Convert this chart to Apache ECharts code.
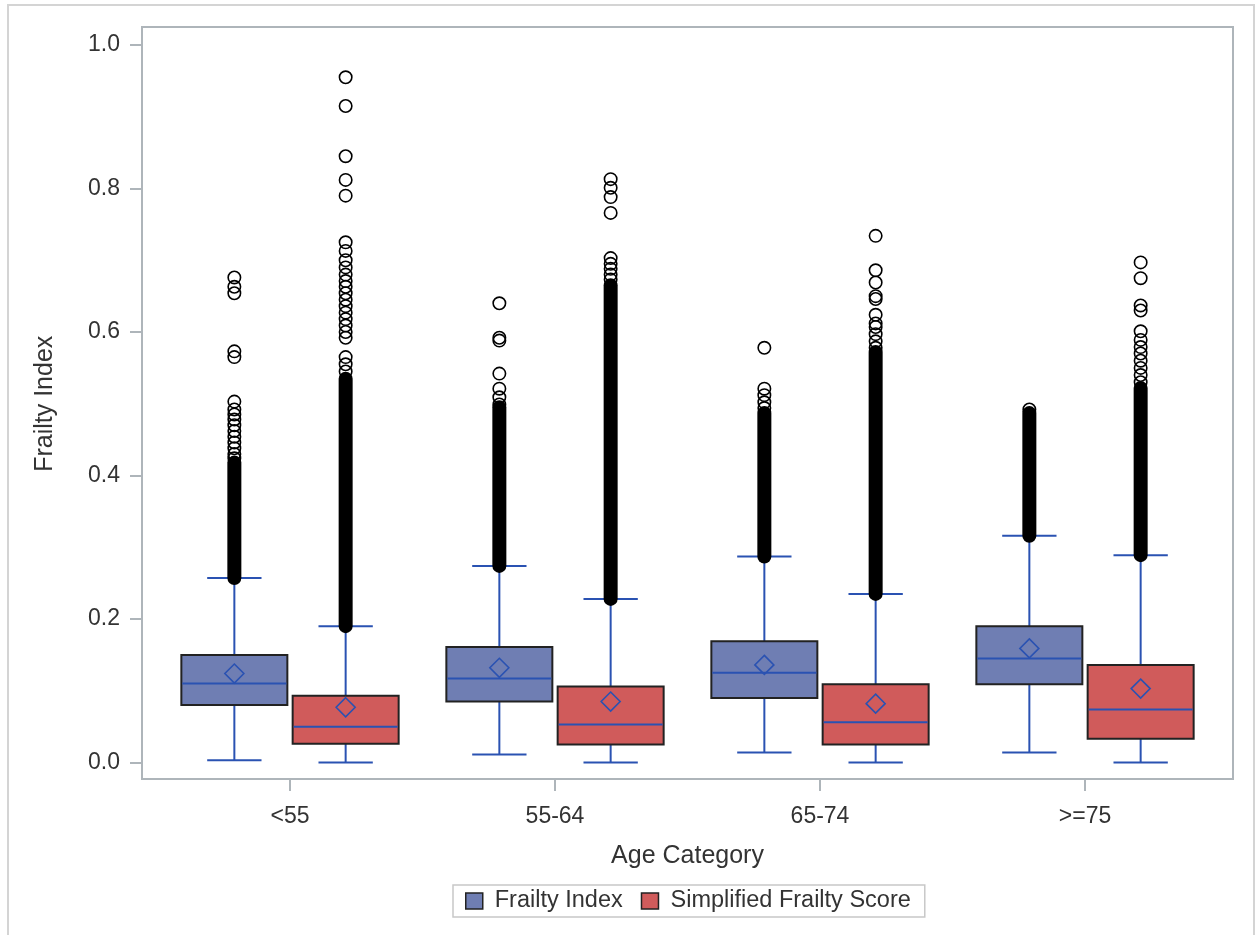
<!DOCTYPE html>
<html>
<head>
<meta charset="utf-8">
<script src="https://cdn.jsdelivr.net/npm/echarts@6/dist/echarts.min.js"></script>
<style>
html,body{margin:0;padding:0;background:#fff;}
#chart{width:1259px;height:935px;}
</style>
</head>
<body>
<div id="chart"></div>
<script>
// ---------- data ----------
const categories = ['<55', '55-64', '65-74', '>=75'];
const seriesNames = ['Frailty Index', 'Simplified Frailty Score'];

// Frailty Index boxes
const fiMin    = [0.003, 0.011, 0.014, 0.014];
const fiQ1     = [0.080, 0.085, 0.090, 0.109];
const fiMedian = [0.110, 0.117, 0.125, 0.145];
const fiQ3     = [0.150, 0.161, 0.169, 0.190];
const fiMax    = [0.257, 0.274, 0.287, 0.316];
const fiMean   = [0.124, 0.132, 0.136, 0.159];

// Simplified Frailty Score boxes
const sfsMin    = [0.000, 0.000, 0.000, 0.000];
const sfsQ1     = [0.026, 0.025, 0.025, 0.033];
const sfsMedian = [0.050, 0.053, 0.056, 0.074];
const sfsQ3     = [0.093, 0.106, 0.109, 0.136];
const sfsMax    = [0.190, 0.228, 0.235, 0.289];
const sfsMean   = [0.077, 0.085, 0.082, 0.103];

// Dense runs of overlapping outliers (low, high) per category
const fiDenseLow   = [0.257, 0.274, 0.287, 0.316];
const fiDenseHigh  = [0.418, 0.495, 0.487, 0.487];
const sfsDenseLow  = [0.190, 0.228, 0.235, 0.289];
const sfsDenseHigh = [0.535, 0.665, 0.572, 0.522];

// Individually visible outliers per category
const fiOutliers = [
  [0.676, 0.663, 0.654, 0.573, 0.565, 0.503, 0.492, 0.485, 0.478, 0.470, 0.462, 0.454, 0.446, 0.438, 0.430, 0.424],
  [0.640, 0.592, 0.588, 0.542, 0.521, 0.509, 0.499],
  [0.578, 0.521, 0.512, 0.502, 0.494],
  [0.492]
];
const sfsOutliers = [
  [0.955, 0.915, 0.845, 0.812, 0.790, 0.725, 0.713, 0.700, 0.690, 0.680, 0.671, 0.663, 0.654, 0.645, 0.636, 0.627, 0.618, 0.609, 0.600, 0.592, 0.565, 0.555, 0.545],
  [0.813, 0.801, 0.788, 0.766, 0.703, 0.695, 0.688, 0.680, 0.673],
  [0.734, 0.686, 0.669, 0.650, 0.646, 0.624, 0.612, 0.607, 0.597, 0.587, 0.578],
  [0.697, 0.675, 0.637, 0.630, 0.601, 0.589, 0.579, 0.570, 0.560, 0.550, 0.540, 0.530]
];

const yTicks = [0, 0.2, 0.4, 0.6, 0.8, 1.0];

// ---------- styling ----------
const FILLS = ['#6F7EB3', '#D05B5B'];
const LINE = '#2A52B2';
const BOX_EDGE = '#222222';
const AXIS_GRAY = '#AEB5BA';
const TEXT = '#333333';
const FONT = "'Liberation Sans', Arial, sans-serif";
const OFFSETS = [-0.21, 0.21];   // fraction of category band
const BOX_W = 0.40;
const CAP_W = 0.205;
const R = 6.2;

// ---------- build series data ----------
function boxData(mn, q1, md, q3, mx, mean) {
  return categories.map((c, i) => [i, mn[i], q1[i], md[i], q3[i], mx[i], mean[i]]);
}
const boxSets = [
  boxData(fiMin, fiQ1, fiMedian, fiQ3, fiMax, fiMean),
  boxData(sfsMin, sfsQ1, sfsMedian, sfsQ3, sfsMax, sfsMean)
];
const denseData = [];
categories.forEach((c, i) => {
  denseData.push([i, fiDenseLow[i], fiDenseHigh[i], 0]);
  denseData.push([i, sfsDenseLow[i], sfsDenseHigh[i], 1]);
});
const outlierData = [];
categories.forEach((c, i) => {
  fiOutliers[i].forEach(v => outlierData.push([i, v, 0]));
  sfsOutliers[i].forEach(v => outlierData.push([i, v, 1]));
});

function centerX(api, cat, g) {
  const band = api.size([1, 0])[0];
  return { c: api.coord([cat, 0])[0] + OFFSETS[g] * band, band: band };
}

function boxRender(g) {
  return function (params, api) {
    const cat = api.value(0);
    const p = centerX(api, cat, g);
    const c = p.c, band = p.band;
    const y = k => api.coord([cat, api.value(k)])[1];
    const yMin = y(1), yQ1 = y(2), yMed = y(3), yQ3 = y(4), yMax = y(5), yMean = y(6);
    const bw = BOX_W * band, cw = CAP_W * band, d = 9.5;
    const ls = { stroke: LINE, lineWidth: 2 };
    return {
      type: 'group',
      children: [
        { type: 'line', shape: { x1: c, y1: yMin, x2: c, y2: yQ1 }, style: ls },
        { type: 'line', shape: { x1: c, y1: yQ3, x2: c, y2: yMax }, style: ls },
        { type: 'line', shape: { x1: c - cw / 2, y1: yMin, x2: c + cw / 2, y2: yMin }, style: ls },
        { type: 'line', shape: { x1: c - cw / 2, y1: yMax, x2: c + cw / 2, y2: yMax }, style: ls },
        { type: 'rect', shape: { x: c - bw / 2, y: yQ3, width: bw, height: yQ1 - yQ3 },
          style: { fill: FILLS[g], stroke: BOX_EDGE, lineWidth: 2 } },
        { type: 'line', shape: { x1: c - bw / 2 + 1, y1: yMed, x2: c + bw / 2 - 1, y2: yMed }, style: ls },
        { type: 'polygon', shape: { points: [[c, yMean - d], [c + d, yMean], [c, yMean + d], [c - d, yMean]] },
          style: { fill: 'none', stroke: LINE, lineWidth: 1.6 } }
      ]
    };
  };
}

function denseRender(params, api) {
  const cat = api.value(0);
  const g = api.value(3);
  const c = centerX(api, cat, g).c;
  const yLo = api.coord([cat, api.value(1)])[1];
  const yHi = api.coord([cat, api.value(2)])[1];
  const w = 2 * R + 1.6;
  return {
    type: 'rect',
    shape: { x: c - w / 2, y: yHi - w / 2, width: w, height: (yLo - yHi) + w, r: w / 2 },
    style: { fill: '#000' }
  };
}

function outlierRender(params, api) {
  const cat = api.value(0);
  const g = api.value(2);
  const c = centerX(api, cat, g).c;
  const yv = api.coord([cat, api.value(1)])[1];
  return {
    type: 'circle',
    shape: { cx: c, cy: yv, r: R },
    style: { fill: 'none', stroke: '#000', lineWidth: 1.6 }
  };
}

const chart = echarts.init(document.getElementById('chart'), null, { renderer: 'canvas' });

const option = {
  backgroundColor: '#ffffff',
  animation: false,
  textStyle: { fontFamily: FONT },
  graphic: [{
    type: 'rect', silent: true,
    shape: { x: 8, y: 5, width: 1246, height: 945 },
    style: { fill: 'none', stroke: '#D4D4D4', lineWidth: 2 }
  }],
  grid: [
    { left: 142, top: 27, right: 26, bottom: 156, show: true, borderColor: AXIS_GRAY, borderWidth: 2, backgroundColor: '#fff' },
    { left: 157.5, right: 41.5, top: 45, bottom: 172.5 }
  ],
  xAxis: [
    { gridIndex: 0, type: 'value', show: false, min: 0, max: 1 },
    {
      gridIndex: 1, type: 'category', data: categories, boundaryGap: true, offset: 16.5,
      axisLine: { show: false, onZero: false },
      axisTick: { show: true, alignWithLabel: true, length: 12, lineStyle: { color: AXIS_GRAY, width: 2 } },
      axisLabel: { margin: 26, fontSize: 23, color: TEXT, fontFamily: FONT },
      name: 'Age Category', nameLocation: 'middle', nameGap: 65,
      nameTextStyle: { fontSize: 25, color: TEXT, fontFamily: FONT }
    }
  ],
  yAxis: [
    { gridIndex: 0, type: 'value', show: false, min: 0, max: 1 },
    {
      gridIndex: 1, type: 'value', min: yTicks[0], max: yTicks[yTicks.length - 1], interval: 0.2, offset: 15.5,
      axisLine: { show: false, onZero: false },
      splitLine: { show: false },
      axisTick: { show: true, length: 12, lineStyle: { color: AXIS_GRAY, width: 2 } },
      axisLabel: { margin: 22, fontSize: 23, color: TEXT, fontFamily: FONT, formatter: v => v.toFixed(1) },
      name: 'Frailty Index', nameLocation: 'middle', nameGap: 84,
      nameTextStyle: { fontSize: 25, color: TEXT, fontFamily: FONT }
    }
  ],
  legend: {
    left: 453, top: 885,
    data: seriesNames.map((n, i) => ({ name: n, itemStyle: { color: FILLS[i], borderColor: '#222', borderWidth: 1.5 } })),
    icon: 'rect', itemWidth: 17, itemHeight: 16, itemGap: 18,
    padding: [4, 14, 4, 12],
    borderColor: '#C8C8C8', borderWidth: 1.5,
    textStyle: { fontSize: 23.5, color: TEXT, fontFamily: FONT, padding: [0, 0, 0, 7] }
  },
  series: [
    { name: seriesNames[0], type: 'custom', xAxisIndex: 1, yAxisIndex: 1, data: boxSets[0],
      itemStyle: { color: FILLS[0] }, renderItem: boxRender(0), z: 2,
      encode: { x: 0, y: [1, 2, 3, 4, 5, 6] } },
    { name: seriesNames[1], type: 'custom', xAxisIndex: 1, yAxisIndex: 1, data: boxSets[1],
      itemStyle: { color: FILLS[1] }, renderItem: boxRender(1), z: 2,
      encode: { x: 0, y: [1, 2, 3, 4, 5, 6] } },
    { name: 'dense outliers', type: 'custom', xAxisIndex: 1, yAxisIndex: 1, data: denseData,
      renderItem: denseRender, z: 3, encode: { x: 0, y: [1, 2] } },
    { name: 'outliers', type: 'custom', xAxisIndex: 1, yAxisIndex: 1, data: outlierData,
      renderItem: outlierRender, z: 4, encode: { x: 0, y: 1 } }
  ]
};
chart.setOption(option);
</script>
</body>
</html>
